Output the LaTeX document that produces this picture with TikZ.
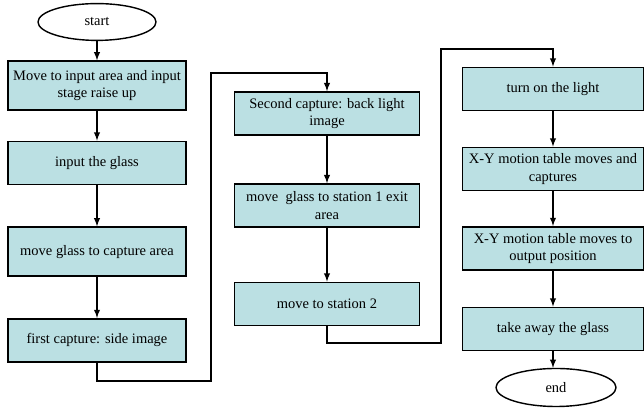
\documentclass[tikz,border=0pt]{standalone}
\usepackage{fontspec}
\setmainfont{Liberation Serif}
\usepackage{xcolor}
\usetikzlibrary{shapes.geometric}
\definecolor{box-bg}{HTML}{BBE0E3}
\definecolor{edge}{HTML}{000000}

\begin{document}
\begin{tikzpicture}[>=latex,
        every node/.style={font=\fontsize{10.3}{12.4}\selectfont},
        stepbox/.style={draw=edge, line width=1.2pt, fill=box-bg,
            minimum width=4.5cm, minimum height=1.08cm, align=center, inner sep=1pt},
        termbox/.style={draw=edge, line width=1pt, fill=white, ellipse,
            minimum width=2.95cm, minimum height=0.92cm},
        link/.style={->, line width=1pt}]
      \useasboundingbox (0,0) rectangle (16.1,10.2);
      % first column
      \node[termbox] (START) at (2.425,9.65) {start};
      \node[stepbox, minimum width=4.45cm, minimum height=1.22cm] (MOVE) at (2.425,8.06)
            {Move to input area and input\\stage raise up};
      \node[stepbox, minimum width=4.45cm] (INPUT) at (2.425,6.125) {input the glass};
      \node[stepbox, minimum width=4.45cm, minimum height=1.22cm] (CAPT) at (2.425,3.91)
            {move glass to capture area};
      \node[stepbox, minimum width=4.45cm] (SIDE) at (2.425,1.69) {first capture: side image};
      \draw[link] (START) -- (MOVE);
      \draw[link] (MOVE) -- (INPUT);
      \draw[link] (INPUT) -- (CAPT);
      \draw[link] (CAPT) -- (SIDE);
      % second column
      \node[stepbox, minimum width=4.63cm] (BACK) at (8.175,7.36)
            {Second capture: back light\\image};
      \node[stepbox, minimum width=4.63cm] (EXIT) at (8.175,5.06)
            {move\ \ glass to station 1 exit\\area};
      \node[stepbox, minimum width=4.63cm] (ST2) at (8.175,2.6) {move to station 2};
      \draw[link] (SIDE.south) -- (SIDE.south |- 0,0.675) -- (5.275,0.675)
            -- (5.275,8.375) -- (BACK.north |- 0,8.375) -- (BACK.north);
      \draw[link] (BACK) -- (EXIT);
      \draw[link] (EXIT) -- (ST2);
      % third column
      \node[stepbox, minimum width=4.53cm] (LIGHT) at (13.825,7.975) {turn on the light};
      \node[stepbox, minimum width=4.53cm] (XY1) at (13.825,5.975)
            {X-Y motion table moves and\\captures};
      \node[stepbox, minimum width=4.53cm] (XY2) at (13.825,3.99)
            {X-Y motion table moves to\\output position};
      \node[stepbox, minimum width=4.53cm] (TAKE) at (13.825,1.975) {take away the glass};
      \node[termbox, minimum width=3.0cm, minimum height=0.95cm] (END) at (13.9,0.5125) {end};
      \draw[link] (ST2.south) -- (ST2.south |- 0,1.625) -- (11.025,1.625)
            -- (11.025,8.975) -- (LIGHT.north |- 0,8.975) -- (LIGHT.north);
      \draw[link] (LIGHT) -- (XY1);
      \draw[link] (XY1) -- (XY2);
      \draw[link] (XY2) -- (TAKE);
      \draw[link] (TAKE.south) -- (TAKE.south |- END.north);
    \end{tikzpicture}
\end{document}
